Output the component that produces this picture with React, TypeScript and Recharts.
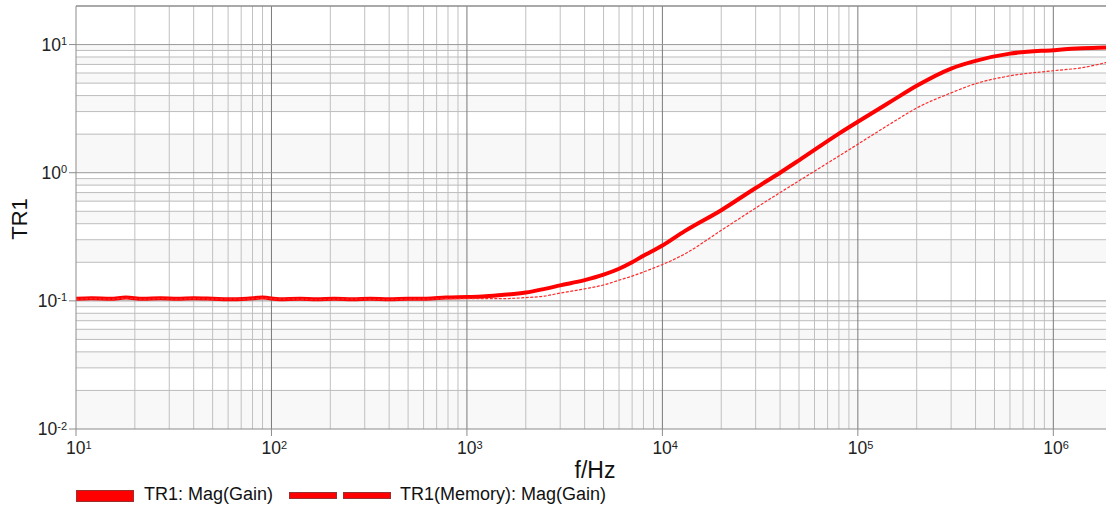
import { LineChart, Line, XAxis, YAxis, ReferenceLine, ReferenceArea } from 'recharts';

// frequency points (Hz)
const freqs = [
  10, 12, 15, 18, 22, 27, 33, 40, 50, 60, 75, 90, 110, 140, 170, 210, 260, 320, 400, 500, 620, 780,
  1000, 1200, 1500, 2000, 2500, 3000, 4000, 5000, 6000, 7000, 8000, 9000, 10000, 13000, 20000, 30000,
  40000, 50000, 80000, 100000, 115000, 150000, 200000, 300000, 400000, 600000, 1000000, 1400000, 1860000,
];

const gain = [
  0.104, 0.105, 0.104, 0.106, 0.104, 0.105, 0.104, 0.105, 0.104, 0.103, 0.104, 0.106, 0.103, 0.104, 0.103,
  0.104, 0.103, 0.104, 0.103, 0.104, 0.104, 0.106, 0.107, 0.108, 0.111, 0.116, 0.124, 0.132, 0.145, 0.16,
  0.178, 0.2, 0.225, 0.247, 0.27, 0.35, 0.51, 0.76, 1.0, 1.25, 2.02, 2.5, 2.85, 3.65, 4.77, 6.5, 7.47, 8.5,
  9.05, 9.35, 9.48,
];

const memory = [
  0.103, 0.104, 0.103, 0.105, 0.103, 0.104, 0.103, 0.104, 0.103, 0.103, 0.103, 0.105, 0.103, 0.103, 0.102,
  0.103, 0.103, 0.103, 0.102, 0.103, 0.103, 0.104, 0.104, 0.104, 0.104, 0.106, 0.109, 0.115, 0.124, 0.133,
  0.145, 0.156, 0.168, 0.18, 0.192, 0.232, 0.355, 0.53, 0.7, 0.865, 1.35, 1.67, 1.91, 2.46, 3.2, 4.2, 4.95,
  5.7, 6.25, 6.6, 7.24,
];

const xDecades = [10, 100, 1000, 10000, 100000, 1000000];
const yDecades = [0.01, 0.1, 1, 10];
const mantissas = [1, 2, 3, 4, 5, 6, 7, 8, 9];

const X_DOMAIN = [10, 1860000];
const Y_DOMAIN = [0.01, 20];

const rows = freqs.map((f, i) => ({ f, gain: gain[i], memory: memory[i] }));

const xMinor = xDecades.flatMap((d) => mantissas.slice(1).map((m) => m * d)).filter((v) => v < X_DOMAIN[1]);
const yMinor = yDecades.slice(0, 3).flatMap((d) => mantissas.slice(1).map((m) => m * d));

// alternating shaded bands between every pair of horizontal gridlines
const yLines = [...yDecades.slice(0, 3).flatMap((d) => mantissas.map((m) => m * d)), 10, 20];
const bands = yLines.slice(0, -1).map((v, i) => ({ y1: v, y2: yLines[i + 1], shade: i % 2 === 0 }));

const FONT = "'Liberation Sans', Arial, sans-serif";
const AXIS = '#8c8c8c';

function exp(v: number) {
  return String(Math.round(Math.log10(v)));
}

function XTick(props: any) {
  const { x, y, payload } = props;
  return (
    <text x={x - 10} y={y + 16} fontFamily={FONT} fontSize={17.5} fill="#222">
      10<tspan dy={-5.5} fontSize={11}>{exp(payload.value)}</tspan>
    </text>
  );
}

function YTick(props: any) {
  const { x, y, payload } = props;
  return (
    <text x={x} y={y + 6} textAnchor="end" fontFamily={FONT} fontSize={17.5} fill="#222">
      10<tspan dy={-5.5} fontSize={11}>{exp(payload.value)}</tspan>
    </text>
  );
}

export default function App() {
  return (
    <div style={{ position: 'absolute', left: 0, top: 0, width: 1106, height: 512, background: '#fff', fontFamily: FONT }}>
      <LineChart width={1106} height={512} data={rows} margin={{ top: 6, right: 0, bottom: 0, left: 0 }}>
        <XAxis
          dataKey="f"
          type="number"
          scale="log"
          domain={X_DOMAIN}
          allowDataOverflow
          ticks={xDecades}
          height={83}
          tickSize={7}
          stroke={AXIS}
          tick={<XTick />}
        />
        <YAxis
          type="number"
          scale="log"
          domain={Y_DOMAIN}
          allowDataOverflow
          ticks={yDecades}
          width={76}
          tickSize={7}
          stroke={AXIS}
          tick={<YTick />}
        />
        {bands.filter((b) => b.shade).map((b) => (
          <ReferenceArea key={'b' + b.y1} y1={b.y1} y2={b.y2} fill="#f8f8f8" fillOpacity={1} stroke="none" />
        ))}
        {xMinor.map((v) => (
          <ReferenceLine key={'xm' + v} x={v} stroke="#c0c0c0" strokeWidth={1} />
        ))}
        {yMinor.map((v) => (
          <ReferenceLine key={'ym' + v} y={v} stroke="#bdbdbd" strokeWidth={1} />
        ))}
        {xDecades.slice(1).map((v) => (
          <ReferenceLine key={'xd' + v} x={v} stroke="#7a7a7a" strokeWidth={1} />
        ))}
        {yDecades.slice(1).map((v) => (
          <ReferenceLine key={'yd' + v} y={v} stroke="#9a9a9a" strokeWidth={1} />
        ))}
        <ReferenceLine y={Y_DOMAIN[1]} stroke={AXIS} strokeWidth={1.5} />
        <Line dataKey="gain" type="monotone" stroke="#ff0000" strokeWidth={4} dot={false} isAnimationActive={false} />
        <Line
          dataKey="memory"
          type="monotone"
          stroke="#ff2a2a"
          strokeWidth={1.2}
          strokeDasharray="3 1.5"
          dot={false}
          isAnimationActive={false}
        />
      </LineChart>

      <div
        style={{
          position: 'absolute', left: 20, top: 219, transform: 'translate(-50%, -50%) rotate(-90deg)',
          fontSize: 22, color: '#111', whiteSpace: 'nowrap',
        }}
      >
        TR1
      </div>
      <div style={{ position: 'absolute', left: 595, top: 457, transform: 'translateX(-50%)', fontSize: 23, color: '#111' }}>
        f/Hz
      </div>

      <div style={{ position: 'absolute', left: 76, top: 490, width: 56, height: 10, background: '#ff0000', border: '1px solid #9a3030' }} />
      <div style={{ position: 'absolute', left: 144, top: 484, fontSize: 18, color: '#111', whiteSpace: 'nowrap' }}>TR1: Mag(Gain)</div>
      <div style={{ position: 'absolute', left: 289, top: 492, width: 46, height: 5, background: '#ff0000', border: '1px solid #9a3030' }} />
      <div style={{ position: 'absolute', left: 343, top: 492, width: 46, height: 5, background: '#ff0000', border: '1px solid #9a3030' }} />
      <div style={{ position: 'absolute', left: 400, top: 484, fontSize: 18, color: '#111', whiteSpace: 'nowrap' }}>TR1(Memory): Mag(Gain)</div>
    </div>
  );
}
